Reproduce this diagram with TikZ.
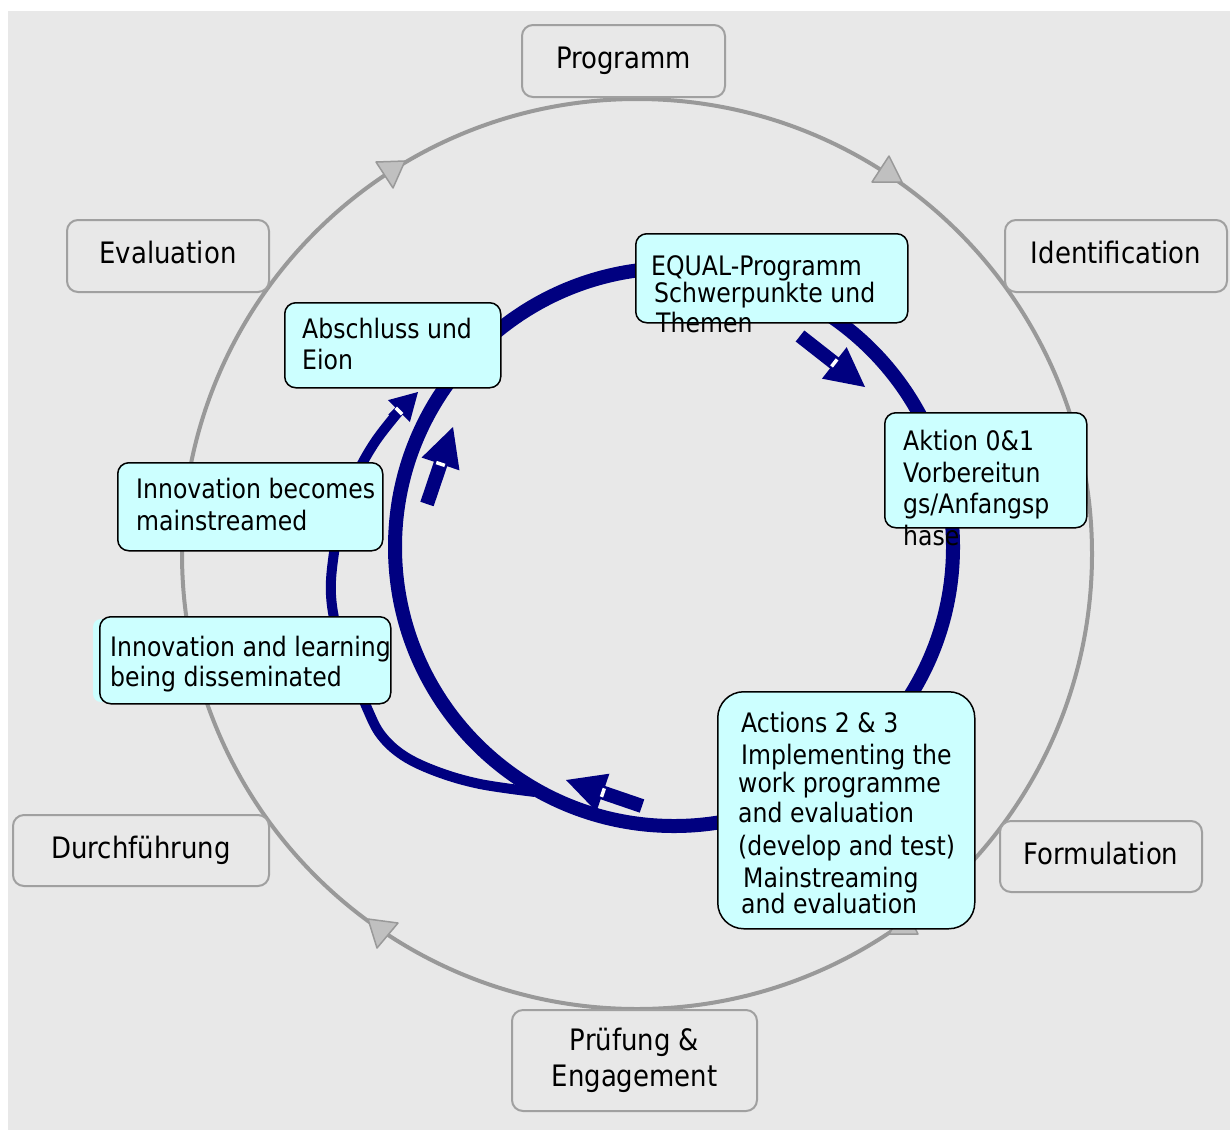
\documentclass[tikz,border=0pt]{standalone}
\usepackage{fontspec}
\setmainfont{DejaVu Sans}[FakeStretch=0.88]
\usetikzlibrary{calc}

\definecolor{bg}{HTML}{E8E8E8}
\definecolor{boxgray}{HTML}{A0A0A0}
\definecolor{ringgray}{HTML}{999999}
\definecolor{trifill}{HTML}{C0C0C0}
\definecolor{navy}{HTML}{000080}
\definecolor{cyanbox}{HTML}{CCFFFF}

% block arrow: #1 tail coordinate, #2 tip coordinate,
% #3 shaft half width, #4 head half width, #5 head length
\newcommand\blockarr[5]{%
  \coordinate (#1-b) at ($(#2)!#5!(#1)$);
  \fill[navy] ($(#1)!#3!90:(#2)$) -- ($(#1-b)!#3!90:(#2)$) -- ($(#1-b)!#4!90:(#2)$)
     -- (#2) -- ($(#1-b)!#4!-90:(#2)$) -- ($(#1-b)!#3!-90:(#2)$) -- ($(#1)!#3!-90:(#2)$) -- cycle;
  \draw[white, line width=3.5pt] ($(#1-b)!4.5pt!90:(#2)$) -- ($(#1-b)!4.5pt!-90:(#2)$);
}

\tikzset{
  outerfont/.style={font=\fontsize{29.5}{36}\selectfont},
  grbox/.style={draw=boxgray, line width=2pt, fill=bg, rounded corners=11pt,
                outerfont, align=center, inner sep=0pt},
  grline/.style={grbox, text height=21pt, text depth=6pt},
  cybox/.style={draw=black, line width=1.5pt, fill=cyanbox, rounded corners=11pt,
                anchor=north west, inner sep=0pt},
  txt/.style={anchor=base west, inner sep=0pt, font=\fontsize{26.8}{31}\selectfont},
  marker/.style={fill=trifill, draw=ringgray, line width=1.5pt, line join=round},
}

\begin{document}
\begin{tikzpicture}[x=1pt,y=-1pt]
\useasboundingbox (0,0) rectangle (1230,1130);
\fill[bg] (8,11) rectangle (1230,1130);

% outer cycle with its direction markers
\coordinate (oc) at (637,554);
\draw[ringgray, line width=4pt] (oc) circle [radius=455];
\filldraw[marker] (376,162) -- (405,161) -- (393,188) -- cycle;
\filldraw[marker] (872,182) -- (889,156) -- (902,182) -- cycle;
\filldraw[marker] (368,919) -- (398,923) -- (377,948) -- cycle;
\filldraw[marker] (889,934) -- (918,934) -- (905,908) -- cycle;

% phase labels round the outer cycle
\node[grline, minimum width=203pt, minimum height=72pt] (prog) at (623.5,61) {Programm};
\node[grline, minimum width=222pt, minimum height=72pt] (ident) at (1116,256) {Identification};
\node[grline, minimum width=202pt, minimum height=72pt] (eval) at (168,256) {Evaluation};
\node[grline, minimum width=202pt, minimum height=71pt] (form) at (1101,856.5) {Formulation};
\node[grline, minimum width=256pt, minimum height=71pt] (durch) at (141,850.5) {Durchführung};
\node[grbox, minimum width=245pt, minimum height=101pt] (pruef) at (634.5,1060.5) {Prüfung \&\\Engagement};

% inner cycle
\coordinate (ic) at (674,547);
\draw[navy, line width=14pt] (ic) circle [radius=279];

% dissemination branch
\draw[navy, line width=10pt] plot[smooth, tension=0.6] coordinates {
  (535,792) (480,784) (438,772) (404,756) (381,735) (367,708) (352,670)
  (337,630) (331,595) (333,560) (341,517) (355,478) (375,442) (400,410)};
\coordinate (ta) at (392,418);
\coordinate (tb) at (418,392);
\blockarr{ta}{tb}{5pt}{15.5pt}{27pt}

% direction arrows along the inner cycle
\coordinate (a1) at (800,336);
\coordinate (a1t) at (865,387);
\blockarr{a1}{a1t}{7pt}{20pt}{39pt}
\coordinate (a2) at (427,504);
\coordinate (a2t) at (453,427);
\blockarr{a2}{a2t}{7pt}{20pt}{39pt}
\coordinate (a3) at (642,806);
\coordinate (a3t) at (566,780);
\blockarr{a3}{a3t}{7pt}{20pt}{39pt}

% stage boxes
\node[cybox, minimum width=272pt, minimum height=89pt] (equal) at (635,233) {};
\node[cybox, minimum width=202pt, minimum height=115pt] (aktion) at (884,412) {};
\node[cybox, minimum width=257pt, minimum height=237pt, rounded corners=26pt] (impl) at (717,691) {};
\node[cybox, minimum width=216pt, minimum height=85pt] (absch) at (284,302) {};
\node[cybox, minimum width=265pt, minimum height=88pt] (mainst) at (117,462) {};
\fill[cyanbox, rounded corners=8pt] (93,619) rectangle (200,702);
\node[cybox, minimum width=291pt, minimum height=87pt] (dissem) at (99,616) {};

% stage texts
\node[txt] (eq1) at (651,275) {EQUAL-Programm};
\node[txt] (eq2) at (654,302) {Schwerpunkte und};
\node[txt] (eq3) at (656,332) {Themen};
\node[txt] (ak1) at (903,450) {Aktion 0\&1};
\node[txt] (ak2) at (903,482) {Vorbereitun};
\node[txt] (ak3) at (903,513) {gs/Anfangsp};
\node[txt] (ak4) at (903,545) {hase};
\node[txt] (im1) at (741,732) {Actions 2 \& 3};
\node[txt] (im2) at (741,764) {Implementing the};
\node[txt] (im3) at (738,792) {work programme};
\node[txt] (im4) at (738,822) {and evaluation};
\node[txt] (im5) at (738,855) {(develop and test)};
\node[txt] (im6) at (743,887) {Mainstreaming};
\node[txt] (im7) at (741,913) {and evaluation};
\node[txt] (ab1) at (302,338) {Abschluss und};
\node[txt] (ab2) at (302,369) {Eion};
\node[txt] (ms1) at (136,498) {Innovation becomes};
\node[txt] (ms2) at (136,530) {mainstreamed};
\node[txt] (ds1) at (110,656) {Innovation and learning};
\node[txt] (ds2) at (110,686) {being disseminated};
\end{tikzpicture}
\end{document}
